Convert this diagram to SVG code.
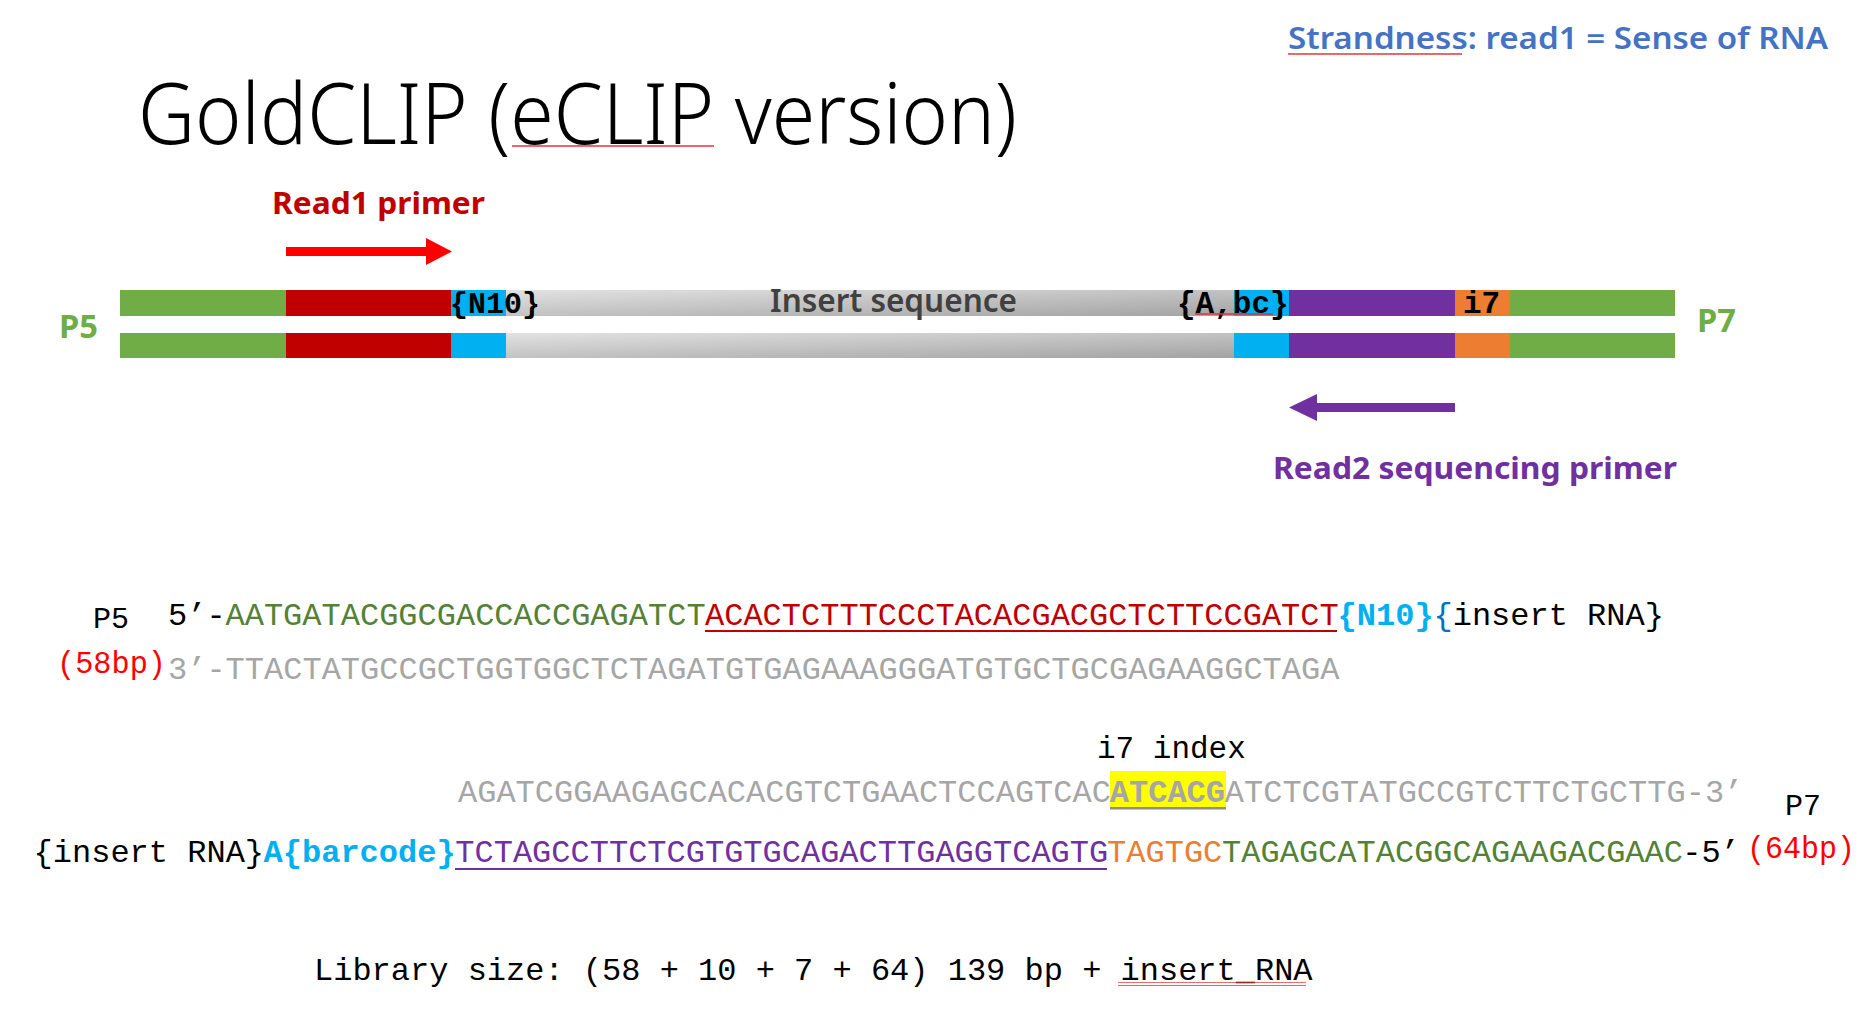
<svg xmlns="http://www.w3.org/2000/svg" width="1858" height="1015" viewBox="0 0 1858 1015">
  <style>
    .sans { font-family: "Noto Sans", "Open Sans", "Liberation Sans", sans-serif; }
    .mono { font-family: "Liberation Mono", "DejaVu Sans Mono", monospace; }
    .seq { font-family: "Liberation Mono", "DejaVu Sans Mono", monospace; font-size: 32px; }
    .b { font-weight: 700; }
    .green { fill: #70AD47; }
    .red { fill: #C00000; }
    .blue { fill: #00B0F0; }
    .purple { fill: #7030A0; }
    .orange { fill: #ED7D31; }
    .t-green { fill: #548235; }
    .t-red { fill: #C00000; }
    .t-gray { fill: #A6A6A6; }
    .t-blue { fill: #00B0F0; }
    .t-dblue { fill: #0070C0; }
    .t-purple { fill: #7030A0; }
    .t-orange { fill: #ED7D31; }
    .t-black { fill: #000000; }
    .t-bright { fill: #FF0000; }
  </style>
  <defs>
    <linearGradient id="insertGrad" x1="0" y1="0" x2="1" y2="1">
      <stop offset="0" stop-color="#E2E2E2"/>
      <stop offset="1" stop-color="#A3A3A3"/>
    </linearGradient>
    <!-- red wavy underline -->
    <pattern id="squiggle" width="4" height="4" patternUnits="userSpaceOnUse">
      <path d="M0,3 L1,1 L2,3 L3,1 L4,3" fill="none" stroke="#E03030" stroke-width="0.9"/>
    </pattern>
  </defs>

  <rect width="1858" height="1015" fill="#FFFFFF"/>

  <!-- header -->
  <g id="strandness">
    <text class="sans" x="1288" y="49" font-size="30" font-weight="600" fill="#4472C4" textLength="540" lengthAdjust="spacingAndGlyphs">Strandness: read1 = Sense of RNA</text>
    <rect x="1288" y="51" width="174" height="4" fill="url(#squiggle)"/>
  </g>
  <g id="title">
    <text class="sans" x="138" y="144" font-size="85" font-weight="300" fill="#000000" textLength="879" lengthAdjust="spacingAndGlyphs">GoldCLIP (eCLIP version)</text>
    <rect x="512" y="143" width="202" height="4" fill="url(#squiggle)"/>
  </g>

  <!-- primer labels -->
  <g id="read1-primer">
    <text class="sans b" x="272" y="214" font-size="30" fill="#C00000" textLength="213" lengthAdjust="spacingAndGlyphs">Read1 primer</text>
  </g>
  <g id="read2-primer">
    <text class="sans b" x="1273" y="479" font-size="30" fill="#7030A0" textLength="404" lengthAdjust="spacingAndGlyphs">Read2 sequencing primer</text>
  </g>

  <!-- primer direction arrows -->
  <g id="connectors">
    <polygon points="286,247 426,247 426,238 452,251.5 426,265 426,256 286,256" fill="#FF0000"/>
    <polygon points="1455,403 1317,403 1317,394 1289,407.5 1317,421 1317,412 1455,412" fill="#7030A0"/>
  </g>

  <!-- top strand of the library -->
  <g id="top-strand">
    <rect class="green" x="120" y="290" width="166" height="26"/>
    <rect class="red" x="286" y="290" width="165" height="26"/>
    <rect class="blue" x="451" y="290" width="55" height="26"/>
    <rect x="506" y="290" width="728" height="26" fill="url(#insertGrad)"/>
    <rect class="blue" x="1234" y="290" width="55" height="26"/>
    <rect class="purple" x="1289" y="290" width="166" height="26"/>
    <rect class="orange" x="1455" y="290" width="55" height="26"/>
    <rect class="green" x="1510" y="290" width="165" height="26"/>
    <text class="mono b" x="450" y="313" font-size="30" fill="#000000">{N10}</text>
    <text class="sans" x="770" y="312" font-size="32" font-weight="600" fill="#404040" textLength="247" lengthAdjust="spacingAndGlyphs">Insert sequence</text>
    <text class="mono b" x="1177" y="313" font-size="31" fill="#000000">{A,bc}</text>
    <rect x="1195" y="312" width="78" height="4" fill="url(#squiggle)"/>
    <text class="mono b" x="1463" y="313" font-size="31" fill="#000000">i7</text>
  </g>

  <!-- bottom strand of the library -->
  <g id="bottom-strand">
    <rect class="green" x="120" y="333" width="166" height="25"/>
    <rect class="red" x="286" y="333" width="165" height="25"/>
    <rect class="blue" x="451" y="333" width="55" height="25"/>
    <rect x="506" y="333" width="728" height="25" fill="url(#insertGrad)"/>
    <rect class="blue" x="1234" y="333" width="55" height="25"/>
    <rect class="purple" x="1289" y="333" width="166" height="25"/>
    <rect class="orange" x="1455" y="333" width="55" height="25"/>
    <rect class="green" x="1510" y="333" width="165" height="25"/>
  </g>

  <g id="p5-label">
    <text class="sans b" x="59" y="338" font-size="33" fill="#70AD47" textLength="39" lengthAdjust="spacingAndGlyphs">P5</text>
  </g>
  <g id="p7-label">
    <text class="sans b" x="1697" y="332" font-size="33" fill="#70AD47" textLength="39" lengthAdjust="spacingAndGlyphs">P7</text>
  </g>

  <!-- P5 end sequences -->
  <g id="p5-sequence">
    <text class="mono t-black" x="93" y="628" font-size="30">P5</text>
    <text class="mono t-bright" x="57" y="673" font-size="31" textLength="109" lengthAdjust="spacingAndGlyphs">(58bp)</text>
    <rect x="705" y="630" width="632" height="2" fill="#C00000"/>
    <text class="seq" y="625">
      <tspan class="t-black" x="168">5’-</tspan>
      <tspan class="t-green" x="225.5">AATGATACGGCGACCACCGAGATCT</tspan>
      <tspan class="t-red" x="705">ACACTCTTTCCCTACACGACGCTCTTCCGATCT</tspan>
      <tspan class="t-blue b" x="1337.6">{N10}</tspan>
      <tspan class="t-dblue" x="1433.5">{</tspan>
      <tspan class="t-black" x="1452.7">insert RNA}</tspan>
    </text>
    <text class="seq t-gray" x="168" y="679">3’-TTACTATGCCGCTGGTGGCTCTAGATGTGAGAAAGGGATGTGCTGCGAGAAGGCTAGA</text>
  </g>

  <!-- P7 end sequences -->
  <g id="p7-sequence">
    <text class="mono t-black" x="1097" y="758" font-size="31">i7 index</text>
    <rect x="1110" y="771" width="116" height="37" fill="#FFFF00"/>
    <rect x="1110" y="807" width="116" height="2.5" fill="#8C8C8C"/>
    <text class="seq t-gray" y="802">
      <tspan x="458">AGATCGGAAGAGCACACGTCTGAACTCCAGTCAC</tspan>
      <tspan class="b" x="1109.8">ATCACG</tspan>
      <tspan x="1224.8">ATCTCGTATGCCGTCTTCTGCTTG-3’</tspan>
    </text>
    <text class="mono t-black" x="1785" y="815" font-size="30">P7</text>
    <rect x="455" y="868" width="652" height="2" fill="#7030A0"/>
    <text class="seq" y="862">
      <tspan class="t-black" x="33.6">{insert RNA}</tspan>
      <tspan class="t-blue b" x="263.6">A{barcode}</tspan>
      <tspan class="t-purple" x="455.3">TCTAGCCTTCTCGTGTGCAGACTTGAGGTCAGTG</tspan>
      <tspan class="t-orange" x="1107.1">TAGTGC</tspan>
      <tspan class="t-green" x="1222.1">TAGAGCATACGGCAGAAGACGAAC</tspan>
      <tspan class="t-black" x="1682.2">-5’</tspan>
    </text>
    <text class="mono t-bright" x="1747" y="858" font-size="31" textLength="108" lengthAdjust="spacingAndGlyphs">(64bp)</text>
  </g>

  <g id="library-size">
    <text class="seq t-black" x="314" y="980" font-size="31.7">Library size: (58 + 10 + 7 + 64) 139 bp + insert_RNA</text>
    <rect x="1118" y="982" width="188" height="4" fill="url(#squiggle)"/>
  </g>
</svg>
